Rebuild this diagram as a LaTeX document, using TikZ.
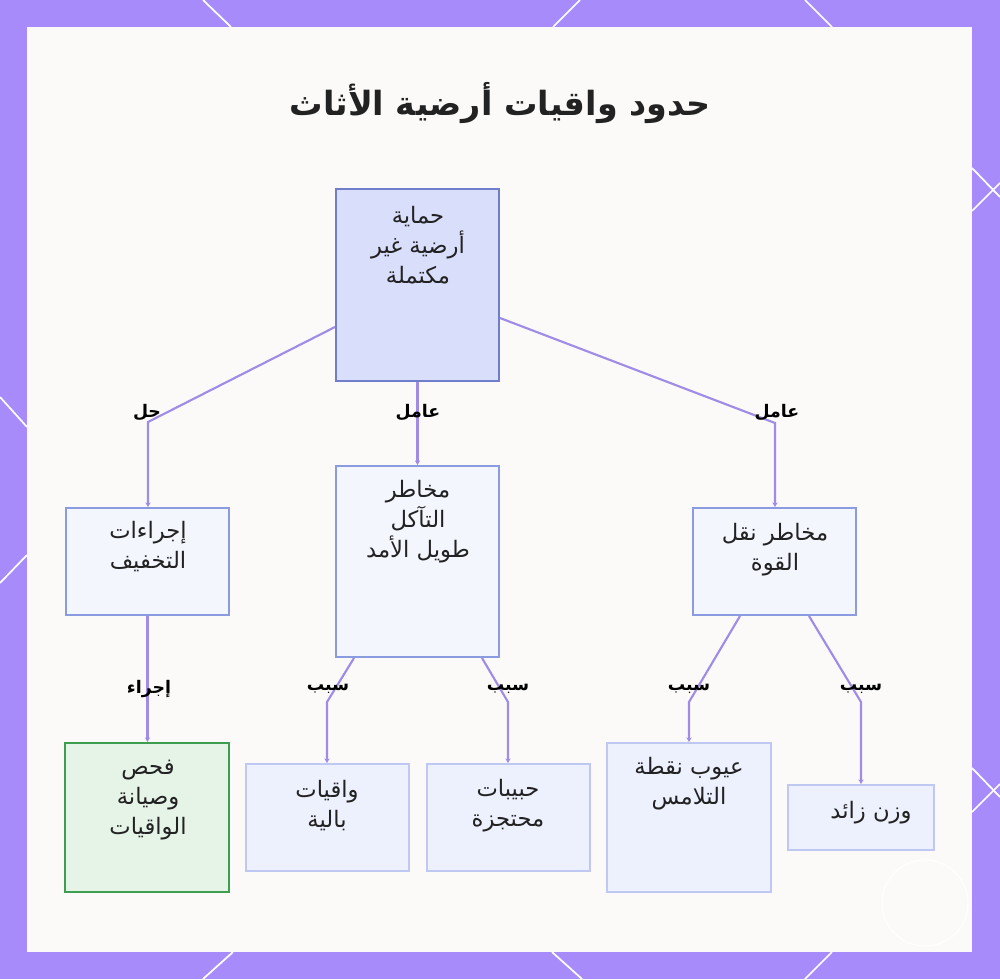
\documentclass[tikz,border=0pt]{standalone}
\usepackage{fontspec}
\setmainfont{DejaVu Sans}
\newfontfamily\arabicfont[Script=Arabic]{DejaVu Sans}
\TeXXeTstate=1
\usetikzlibrary{arrows.meta,calc}
\newcommand\AR[1]{{\arabicfont\beginR #1\endR}}
\definecolor{bgpurple}{HTML}{A78BFA}
\definecolor{panelfill}{HTML}{FBFAF8}
\definecolor{edgecol}{HTML}{A08CE6}
\definecolor{topfill}{HTML}{D9DEFA}
\definecolor{topdraw}{HTML}{6F7DCB}
\definecolor{midfill}{HTML}{F4F6FE}
\definecolor{middraw}{HTML}{8B9BE0}
\definecolor{lowfill}{HTML}{EDF0FD}
\definecolor{lowdraw}{HTML}{BFC8F2}
\definecolor{greenfill}{HTML}{E5F4E7}
\definecolor{greendraw}{HTML}{3E9E4F}
\definecolor{txtcol}{HTML}{222222}
\tikzset{
  boxbase/.style={draw, rectangle, inner sep=0pt, line width=1.5pt},
  topbox/.style={boxbase, fill=topfill, draw=topdraw},
  midbox/.style={boxbase, fill=midfill, draw=middraw},
  lowbox/.style={boxbase, fill=lowfill, draw=lowdraw},
  greenbox/.style={boxbase, fill=greenfill, draw=greendraw},
  boxtext/.style={align=center, inner sep=0pt, text=txtcol, font=\arabicfont\fontsize{17}{22.5}\selectfont},
  edgelabel/.style={inner sep=0pt, text=black, font=\arabicfont\bfseries\fontsize{13}{15}\selectfont},
  edge/.style={draw=edgecol, line width=1.6pt, -{Stealth[length=3.5pt,width=4pt]}},
  borderline/.style={draw=white, line width=1.3pt}
}
\begin{document}
\begin{tikzpicture}[x=0.75pt,y=-0.75pt]
% background
\fill[bgpurple] (0,0) rectangle (1000,979);
\useasboundingbox (0,0) rectangle (1000,979);
\draw[borderline] (203,0) -- (231,27);
\draw[borderline] (580,0) -- (553,27);
\draw[borderline] (805,0) -- (832,27);
\draw[borderline] (233,952) -- (203,979);
\draw[borderline] (552,952) -- (582,979);
\draw[borderline] (832,952) -- (805,979);
\draw[borderline] (0,397) -- (27,427);
\draw[borderline] (27,555) -- (0,583);
\draw[borderline] (972,168) -- (1000,197);
\draw[borderline] (972,211) -- (1000,183);
\draw[borderline] (972,768) -- (1000,797);
\draw[borderline] (972,812) -- (1000,784);
% panel
\fill[panelfill] (27,27) rectangle (972,952);
\draw[white, line width=1pt, opacity=0.9] (925,903) circle (43);
% title
\node[text=txtcol, font=\arabicfont\bfseries\fontsize{25}{30}\selectfont] (title) at (500,103) {\AR{حدود واقيات أرضية الأثاث}};
% boxes
\node[topbox, minimum width=122.25pt, minimum height=144pt] (top) at (417.5,285) {};
\node[midbox, minimum width=122.25pt, minimum height=80.25pt] (mit) at (147.5,561.5) {};
\node[midbox, minimum width=122.25pt, minimum height=143.25pt] (ero) at (417.5,561.5) {};
\node[midbox, minimum width=122.25pt, minimum height=80.25pt] (frc) at (774.5,561.5) {};
\node[greenbox, minimum width=123pt, minimum height=111.75pt] (ins) at (147,817.5) {};
\node[lowbox, minimum width=122.25pt, minimum height=80.25pt] (worn) at (327.5,817.5) {};
\node[lowbox, minimum width=122.25pt, minimum height=80.25pt] (grit) at (508.5,817.5) {};
\node[lowbox, minimum width=123pt, minimum height=111.75pt] (cont) at (689,817.5) {};
\node[lowbox, minimum width=109.5pt, minimum height=48.75pt] (wt) at (861,817.5) {};
% box texts
\node[boxtext] (topt) at (418,245) {\AR{حماية}\\\AR{أرضية غير}\\\AR{مكتملة}};
\node[boxtext] (mitt) at (148,547) {\AR{إجراءات}\\\AR{التخفيف}};
\node[boxtext] (erot) at (418,522) {\AR{مخاطر}\\\AR{التآكل}\\\AR{طويل الأمد}};
\node[boxtext] (frct) at (775,550) {\AR{مخاطر نقل}\\\AR{القوة}};
\node[boxtext] (inst) at (148,800) {\AR{فحص}\\\AR{وصيانة}\\\AR{الواقيات}};
\node[boxtext] (wornt) at (327,806) {\AR{واقيات}\\\AR{بالية}};
\node[boxtext] (gritt) at (508,806) {\AR{حبيبات}\\\AR{محتجزة}};
\node[boxtext] (contt) at (689,784) {\AR{عيوب نقطة}\\\AR{التلامس}};
\node[boxtext] (wtt) at (871,813) {\AR{وزن زائد}};
% bend coordinates
\coordinate (b1) at (148,422);
\coordinate (b2) at (775,423);
\coordinate (b3) at (327,702);
\coordinate (b4) at (508,702);
\coordinate (b5) at (689,702);
\coordinate (b6) at (861,702);
% edges
\draw[edge] ($(top.west)+(0,42)$) -- (b1) -- (mit.north -| b1);
\draw[edge] (top.south) -- (ero.north);
\draw[edge] ($(top.east)+(0,33)$) -- (b2) -- (frc.north -| b2);
\draw[edge] (mit.south) -- (ins.north -| mit.south);
\draw[edge] ($(ero.south west)+(19,0)$) -- (b3) -- (worn.north -| b3);
\draw[edge] ($(ero.south east)+(-18,0)$) -- (b4) -- (grit.north -| b4);
\draw[edge] ($(frc.south west)+(48,0)$) -- (b5) -- (cont.north -| b5);
\draw[edge] ($(frc.south east)+(-48,0)$) -- (b6) -- (wt.north -| b6);
% edge labels
\node[edgelabel] (l1) at (147,412) {\AR{حل}};
\node[edgelabel] (l2) at (418,412) {\AR{عامل}};
\node[edgelabel] (l3) at (777,412) {\AR{عامل}};
\node[edgelabel] (l4) at (149,689) {\AR{إجراء}};
\node[edgelabel] (l5) at (328,689) {\AR{سبب}};
\node[edgelabel] (l6) at (508,689) {\AR{سبب}};
\node[edgelabel] (l7) at (689,689) {\AR{سبب}};
\node[edgelabel] (l8) at (861,689) {\AR{سبب}};
\end{tikzpicture}
\end{document}
